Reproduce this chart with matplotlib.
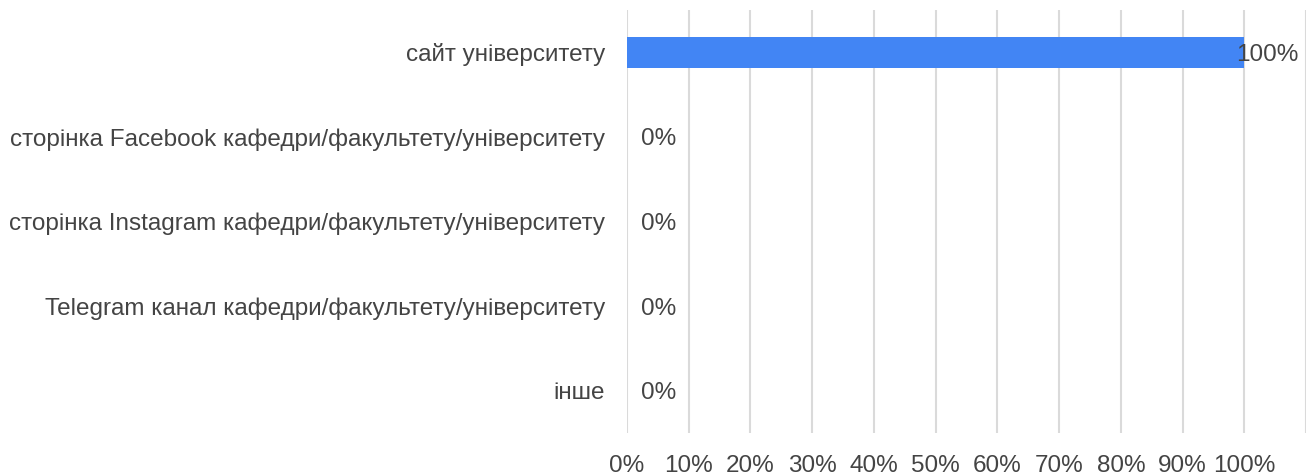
import matplotlib.pyplot as plt
import numpy as np

# data
categories = [
    "сайт університету",
    "сторінка Facebook кафедри/факультету/університету",
    "сторінка Instagram кафедри/факультету/університету",
    "Telegram канал кафедри/факультету/університету",
    "інше",
]
values = [100, 0, 0, 0, 0]
xticks = [0, 10, 20, 30, 40, 50, 60, 70, 80, 90, 100]

plt.rcParams['font.family'] = ['Liberation Sans', 'DejaVu Sans']
text_color = '#444444'
fs = 17.5

fig = plt.figure(figsize=(13.13, 4.75), dpi=100)
ax = fig.add_axes([627 / 1313, 1 - 433 / 475, (1306 - 627) / 1313, 423 / 475])

y = np.arange(len(categories))
ax.barh(y, values, height=0.37, color='#4285F4', zorder=2)

ax.set_ylim(len(categories) - 0.5, -0.5)
ax.set_xlim(0, 110)
ax.set_xticks(xticks + [110])
ax.set_xticklabels([f"{t}%" for t in xticks] + [""], fontsize=fs, color=text_color)
ax.set_yticks(y)
ax.set_yticklabels(categories, fontsize=fs, color=text_color)
ax.tick_params(axis='both', length=0)
ax.tick_params(axis='y', pad=16)
ax.tick_params(axis='x', pad=16)
ax.grid(axis='x', color='#dadada', linewidth=1.5, zorder=0)
for s in ax.spines.values():
    s.set_visible(False)

# value labels
for yi, v in zip(y, values):
    off = -8 if v >= 100 else 14
    ax.annotate(f"{v}%", (v, yi), xytext=(off, 0), textcoords='offset pixels',
                ha='left', va='center_baseline', fontsize=fs, color=text_color, zorder=3)

fig.savefig('out.png', dpi=100)
